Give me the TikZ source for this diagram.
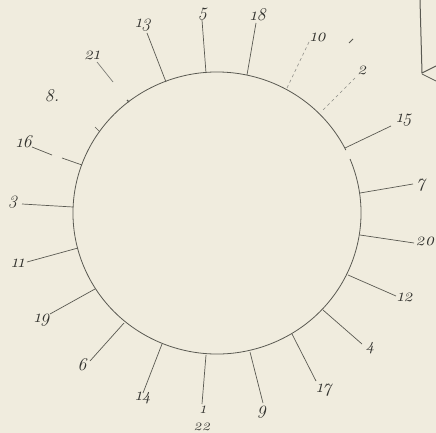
\documentclass[tikz,border=0pt]{standalone}
\usepackage{fontspec}
\newfontfamily\labfont{Latin Modern Roman}[Numbers=OldStyle]
\definecolor{bg}{RGB}{240,236,222}
\definecolor{ink}{RGB}{90,90,82}
\definecolor{txt}{RGB}{50,50,46}
\tikzset{
  lab/.style={font=\labfont\itshape\fontsize{18}{20}\selectfont, text=txt, inner sep=0pt},
  lowlab/.style={font=\labfont\itshape\fontsize{16}{18}\selectfont, text=txt, inner sep=0pt, text height=7pt, text depth=0pt},
  spoke/.style={draw=ink, line width=0.7pt},
  faint/.style={draw=ink!70, line width=0.6pt, dash pattern=on 3pt off 3pt},
}
\begin{document}
\begin{tikzpicture}[x=1pt,y=-1pt]
\fill[bg] (0,0) rectangle (436,433);
\useasboundingbox (0,0) rectangle (436,433);
% circle with a small gap
\draw[ink, line width=0.8pt] (217,213) ++(-22.5:144 and 141) arc[start angle=-22.5, end angle=333.5, x radius=144, y radius=141];
% labels
\node[lab] (l13) at (143,25) {13};
\node[lab] (l5) at (203,14) {5};
\node[lab] (l21) at (92,55) {21};
\node[lab] (l8) at (52,96) {8.};
\node[lab] (l16) at (24,142) {16};
\node[lab] (l3) at (13,202) {3};
\node[lab] (l18) at (258,15) {18};
\node[lab] (l10) at (318,37) {10};
\node[lab] (l2) at (362,70) {2};
\node[lab] (l15) at (404,120) {15};
\node[lab] (l7) at (421,185) {7};
\node[lab] (l20) at (425,241) {20};
\node[lab] (l12) at (405,297) {12};
\node[lab] (l4) at (370,348) {4};
\node[lab] (l17) at (324,390) {17};
\node[lab] (l9) at (262,412) {9};
\node[lab] (l11) at (18,263) {11};
\node[lab] (l19) at (42,320) {19};
\node[lab] (l6) at (82,365) {6};
\node[lab] (l14) at (143,398) {14};
\node[lowlab] (l1) at (203,410) {1};
\node[lowlab] (l22) at (202,427) {22};
% spokes
\draw[spoke] (147,33) -- (166,82);
\draw[spoke] (202,20) -- (206,73);
\draw[spoke, ink!80] (97,62) -- (113,82);
\draw[spoke] (95,127) -- (100,132);
\draw[spoke] (32,147) -- (52,155);
\draw[spoke] (62,158) -- (82,165);
\draw[spoke] (22,204) -- (73,207);
\draw[spoke] (256,23) -- (247,75);
\draw[faint] (309,42) -- (287,88);
\draw[faint] (355,78) -- (321,112);
\draw[spoke] (391,126) -- (345,148);
\draw[spoke] (413,184) -- (360,193);
\draw[spoke] (414,243) -- (360,235);
\draw[spoke] (396,296) -- (348,275);
\draw[spoke] (362,344) -- (323,310);
\draw[spoke] (316,381) -- (292,334);
\draw[spoke] (263,403) -- (250,352);
\draw[spoke] (27,262) -- (78,248);
\draw[spoke] (50,314) -- (95,289);
\draw[spoke] (90,361) -- (124,323);
\draw[spoke] (143,393) -- (162,344);
\draw[spoke] (202,404) -- (206,355);
% small marks
\draw[ink, line width=1.4pt] (127,100) -- (129,102);
\draw[ink, line width=0.8pt] (349,43) -- (353,39);
% corner of neighbouring figure
\draw[ink, line width=1pt] (420,0) -- (422,73) -- (436,66);
\draw[ink, line width=0.8pt] (422,74) -- (436,81);
\end{tikzpicture}
\end{document}
